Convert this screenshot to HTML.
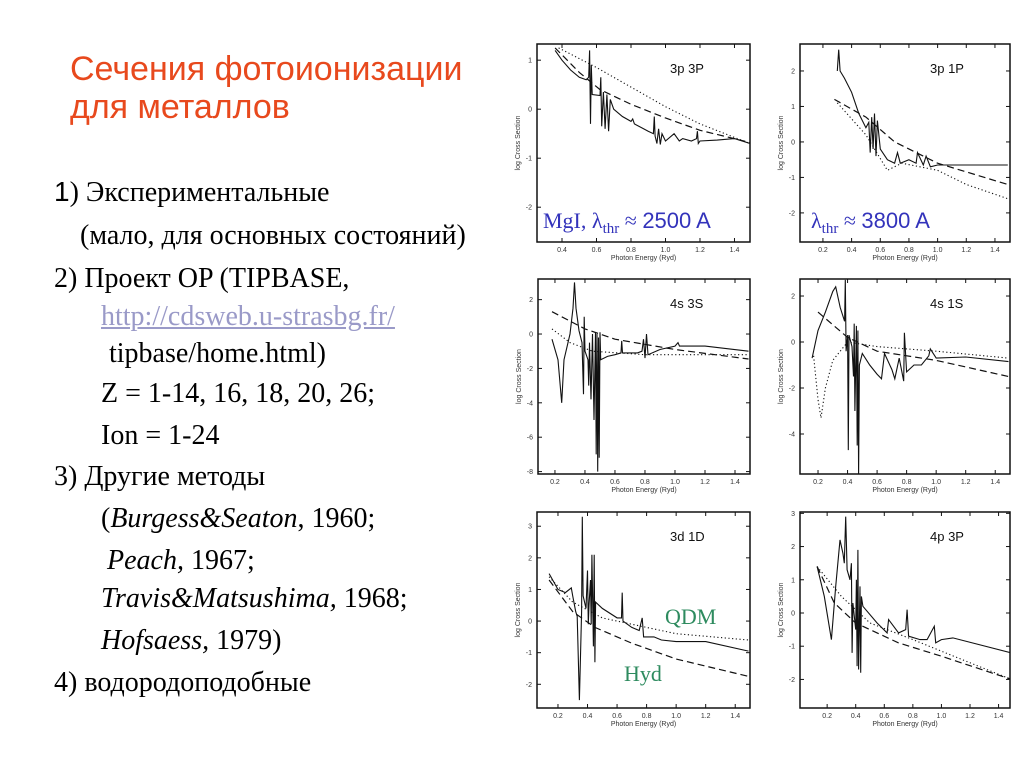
<!DOCTYPE html>
<html><head><meta charset="utf-8">
<style>
body{margin:0;width:1024px;height:768px;background:#fff;overflow:hidden;position:relative;font-family:"Liberation Serif","Noto Serif CJK SC",serif}
.t{position:absolute;font-size:28px;line-height:32px;color:#000;white-space:nowrap}
h1{position:absolute;left:70px;top:50px;margin:0;font:34px/38px "Liberation Sans",sans-serif;color:#e8491d;font-weight:normal}
svg{position:absolute;left:0;top:0}
</style></head><body>
<h1>Сечения фотоионизации<br>для металлов</h1>
<div class="t" style="left:54px;top:176px"><span style="font-family:'Liberation Sans',sans-serif">1</span>) Экспериментальные</div>
<div class="t" style="left:80px;top:220px">(мало, для основных состояний)</div>
<div class="t" style="left:54px;top:263px">2) Проект OP (TIPBASE,</div>
<div class="t" style="left:101px;top:301px;color:#9a9ac8;text-decoration:underline">http://cdsweb.u-strasbg.fr/</div>
<div class="t" style="left:109px;top:338px">tipbase/home.html)</div>
<div class="t" style="left:101px;top:378px">Z = 1-14, 16, 18, 20, 26;</div>
<div class="t" style="left:101px;top:420px">Ion = 1-24</div>
<div class="t" style="left:54px;top:461px">3) Другие методы</div>
<div class="t" style="left:101px;top:503px">(<i>Burgess&amp;Seaton</i>, 1960;</div>
<div class="t" style="left:107px;top:545px"><i>Peach,</i> 1967;</div>
<div class="t" style="left:101px;top:583px"><i>Travis&amp;Matsushima,</i> 1968;</div>
<div class="t" style="left:101px;top:625px"><i>Hofsaess,</i> 1979)</div>
<div class="t" style="left:54px;top:667px">4) водородоподобные</div>

<svg id="c" width="1024" height="768"></svg>
<script>
// Panel data: energies (Ryd) and log cross sections
const p1SolidX=[0.36,0.4,0.45,0.5,0.54,0.555,0.56,0.565,0.57,0.575,0.62,0.625,0.63,0.64,0.65,0.66,0.67,0.68,0.7,0.75,0.8,0.81,0.82,0.9,0.93,0.935,0.94,0.95,0.96,0.97,0.98,1.0,1.05,1.08,1.1,1.15,1.18,1.185,1.19,1.2,1.3,1.4,1.49];
const p1SolidY=[1.2,1.0,0.8,0.65,0.6,0.65,1.2,-0.3,0.9,0.3,0.28,0.65,-0.35,0.35,-0.4,0.3,-0.45,0.2,0.0,-0.15,-0.25,-0.2,-0.3,-0.45,-0.5,-0.15,-0.55,-0.7,-0.4,-0.72,-0.5,-0.65,-0.5,-0.65,-0.6,-0.65,-0.6,-0.45,-0.7,-0.65,-0.63,-0.6,-0.7];
const p1DashX=[0.36,0.5,0.62,0.8,1.0,1.2,1.49];const p1DashY=[1.25,0.75,0.4,0.1,-0.18,-0.43,-0.68];
const p1DotX=[0.38,0.6,0.8,1.0,1.2,1.49];const p1DotY=[1.25,0.85,0.45,0.05,-0.3,-0.7];

const p2SolidX=[0.3,0.31,0.32,0.35,0.4,0.45,0.5,0.52,0.53,0.54,0.55,0.56,0.57,0.58,0.6,0.65,0.7,0.72,0.74,0.8,0.85,0.86,0.9,0.92,0.95,1.0,1.2,1.49];
const p2SolidY=[2.0,2.6,2.0,1.8,1.4,0.8,0.4,0.55,-0.3,0.7,-0.2,0.8,-0.4,0.6,-0.2,-0.5,-0.6,-0.3,-0.6,-0.5,-0.6,-0.3,-0.65,-0.4,-0.7,-0.65,-0.65,-0.65];
const p2DashX=[0.28,0.5,0.7,1.0,1.49];const p2DashY=[1.2,0.7,0.0,-0.6,-1.2];
const p2DotX=[0.3,0.5,0.65,0.75,1.0,1.2,1.49];const p2DotY=[1.1,0.2,-0.8,-0.6,-0.8,-1.2,-1.6];

const p3SolidX=[0.18,0.22,0.245,0.26,0.3,0.32,0.33,0.34,0.36,0.38,0.39,0.395,0.4,0.42,0.425,0.43,0.44,0.45,0.46,0.47,0.475,0.48,0.485,0.49,0.495,0.5,0.505,0.55,0.6,0.64,0.645,0.65,0.7,0.75,0.78,0.79,0.8,0.81,0.82,0.9,1.0,1.02,1.03,1.2,1.49];
const p3SolidY=[-0.3,-1.5,-4.0,-1.5,0.0,1.5,3.0,1.5,0.2,-0.5,-3.5,1.0,-1.0,-1.5,-3.0,-0.5,-3.8,0.0,-5.0,0.1,-7.0,0.0,-8.0,-0.2,-7.2,0.1,-1.5,-1.3,-1.2,-1.1,-0.4,-1.1,-1.1,-1.1,-1.0,-0.3,-1.4,0.0,-1.2,-0.9,-0.7,-0.5,-0.7,-0.7,-1.0];
const p3DashX=[0.18,0.4,0.6,1.0,1.49];const p3DashY=[1.3,0.3,-0.3,-0.9,-1.45];
const p3DotX=[0.18,0.3,0.45,0.8,1.49];const p3DotY=[0.3,-0.5,-1.0,-1.2,-1.2];

const p4SolidX=[0.16,0.2,0.25,0.3,0.32,0.35,0.38,0.385,0.39,0.4,0.405,0.41,0.43,0.44,0.445,0.45,0.46,0.465,0.47,0.475,0.48,0.5,0.55,0.6,0.63,0.65,0.7,0.72,0.75,0.78,0.785,0.8,0.85,0.9,0.95,0.96,1.0,1.2,1.49];
const p4SolidY=[-0.7,0.5,1.3,2.2,2.4,1.5,0.9,2.7,-0.4,0.3,-4.7,0.3,-0.2,-1.5,0.8,-3.0,0.7,-4.5,0.5,-5.8,-1.0,-0.5,-1.0,-1.4,-1.6,-0.5,-1.2,-1.6,-0.7,-1.7,0.4,-1.3,-1.0,-1.0,-0.6,-0.3,-0.7,-0.65,-0.85];
const p4DashX=[0.2,0.4,0.6,1.0,1.49];const p4DashY=[1.3,0.2,-0.4,-0.8,-1.5];
const p4DotX=[0.17,0.2,0.22,0.25,0.3,0.4,0.6,1.0,1.49];const p4DotY=[-0.6,-2.5,-3.3,-2.0,-0.8,0.0,-0.2,-0.4,-0.7];

const p5SolidX=[0.14,0.2,0.25,0.29,0.3,0.32,0.33,0.345,0.36,0.365,0.37,0.39,0.4,0.405,0.41,0.42,0.425,0.43,0.44,0.445,0.45,0.455,0.5,0.6,0.63,0.635,0.64,0.7,0.75,0.77,0.78,0.85,0.9,1.0,1.2,1.49];
const p5SolidY=[1.5,1.0,0.9,1.05,0.8,0.3,0.15,-2.5,0.3,3.3,0.8,0.4,1.6,-0.1,0.5,1.3,-0.1,2.1,-0.8,2.1,-1.3,0.6,0.4,0.1,0.1,0.9,0.0,-0.2,-0.3,0.1,-0.5,-0.5,-0.6,-0.65,-0.65,-0.95];
const p5DashX=[0.14,0.3,0.45,0.7,1.0,1.49];const p5DashY=[1.3,0.3,-0.2,-0.7,-1.2,-1.75];
const p5DotX=[0.14,0.3,0.5,0.8,1.0,1.49];const p5DotY=[1.4,0.6,0.1,-0.2,-0.4,-0.6];

const p6SolidX=[0.13,0.18,0.23,0.26,0.29,0.31,0.32,0.33,0.34,0.36,0.37,0.375,0.38,0.4,0.405,0.41,0.415,0.42,0.43,0.435,0.44,0.45,0.55,0.62,0.63,0.7,0.75,0.76,0.77,0.85,0.9,0.95,0.96,1.0,1.08,1.49];
const p6SolidY=[1.4,0.5,-0.8,0.8,2.2,1.8,1.5,2.9,1.3,1.0,1.5,-1.2,0.3,-0.5,1.0,-1.6,1.9,-1.7,0.8,-1.8,0.5,0.2,-0.3,-0.6,-0.2,-0.6,-0.5,0.1,-0.7,-0.8,-0.8,-0.4,-0.9,-0.8,-0.75,-1.2];
const p6DashX=[0.13,0.25,0.4,0.7,1.0,1.49];const p6DashY=[1.4,0.3,-0.3,-0.9,-1.3,-2.0];
const p6DotX=[0.13,0.3,0.5,0.8,1.2,1.49];const p6DotY=[1.4,0.5,-0.3,-0.8,-1.5,-2.0];

const xTickLabels=["0.2","0.4","0.6","0.8","1.0","1.2","1.4"];

const panels=[
 {name:"3p 3P",L:537,R:750,T:44,B:242,x0:0.255,x1:1.49,y0:-2.71,y1:1.33,yt:[-2,-1,0,1],xt:["0.4","0.6","0.8","1.0","1.2","1.4"],s:[p1SolidX,p1SolidY],d:[p1DashX,p1DashY],o:[p1DotX,p1DotY]},
 {name:"3p 1P",L:800,R:1010,T:44,B:242,x0:0.04,x1:1.505,y0:-2.82,y1:2.76,yt:[-2,-1,0,1,2],xt:xTickLabels,s:[p2SolidX,p2SolidY],d:[p2DashX,p2DashY],o:[p2DotX,p2DotY]},
 {name:"4s 3S",L:538,R:750,T:279,B:474,x0:0.087,x1:1.5,y0:-8.14,y1:3.2,yt:[-8,-6,-4,-2,0,2],xt:xTickLabels,s:[p3SolidX,p3SolidY],d:[p3DashX,p3DashY],o:[p3DotX,p3DotY]},
 {name:"4s 1S",L:800,R:1010,T:279,B:474,x0:0.078,x1:1.5,y0:-5.74,y1:2.74,yt:[-4,-2,0,2],xt:xTickLabels,s:[p4SolidX,p4SolidY],d:[p4DashX,p4DashY],o:[p4DotX,p4DotY]},
 {name:"3d 1D",L:537,R:750,T:512,B:708,x0:0.058,x1:1.5,y0:-2.75,y1:3.45,yt:[-2,-1,0,1,2,3],xt:xTickLabels,s:[p5SolidX,p5SolidY],d:[p5DashX,p5DashY],o:[p5DotX,p5DotY]},
 {name:"4p 3P",L:800,R:1010,T:512,B:708,x0:0.01,x1:1.48,y0:-2.86,y1:3.04,yt:[-2,-1,0,1,2,3],xt:xTickLabels,s:[p6SolidX,p6SolidY],d:[p6DashX,p6DashY],o:[p6DotX,p6DotY]}
];
const NS="http://www.w3.org/2000/svg";
const svg=document.getElementById('c');
function mk(tag,at,parent){const e=document.createElementNS(NS,tag);for(const k in at)e.setAttribute(k,at[k]);(parent||svg).appendChild(e);return e;}
panels.forEach((p,i)=>{
 const g=mk('g',{});
 
 
 const sx=v=>p.L+(v-p.x0)/(p.x1-p.x0)*(p.R-p.L);
 const sy=v=>p.B-(v-p.y0)/(p.y1-p.y0)*(p.B-p.T);
 const cp='cp'+i;
 const cl=mk('clipPath',{id:cp},g);mk('rect',{x:p.L,y:p.T,width:p.R-p.L,height:p.B-p.T},cl);
 const line=(arr,extra,nm)=>{const pts=arr[0].map((x,k)=>sx(x).toFixed(1)+','+sy(arr[1][k]).toFixed(1)).join(' ');
  const e=mk('polyline',Object.assign({points:pts,fill:'none',stroke:'#111','clip-path':'url(#'+cp+')'},extra),g);
  
  };
 line(p.o,{'stroke-width':1.1,'stroke-dasharray':'1.2 2.5'},'hydrogenic-dotted-curve');
 line(p.d,{'stroke-width':1.2,'stroke-dasharray':'7 4'},'qdm-dashed-curve');
 line(p.s,{'stroke-width':1.1},'op-solid-curve');
 const fr=mk('rect',{x:p.L,y:p.T,width:p.R-p.L,height:p.B-p.T,fill:'none',stroke:'#111','stroke-width':1.5},g);
 
 
 p.yt.forEach(v=>{const y=sy(v);mk('line',{x1:p.L,x2:p.L+4,y1:y,y2:y,stroke:'#111'},g);mk('line',{x1:p.R,x2:p.R-4,y1:y,y2:y,stroke:'#111'},g);
  const t=mk('text',{x:p.L-5,y:y+2.5,'font-size':7,'text-anchor':'end','font-family':'Liberation Sans,sans-serif',fill:'#333'},g);t.textContent=v;
  
  });
 p.xt.forEach(s=>{const x=sx(parseFloat(s));mk('line',{x1:x,x2:x,y1:p.B,y2:p.B-4,stroke:'#111'},g);mk('line',{x1:x,x2:x,y1:p.T,y2:p.T+4,stroke:'#111'},g);
  const t=mk('text',{x:x,y:p.B+10,'font-size':7,'text-anchor':'middle','font-family':'Liberation Sans,sans-serif',fill:'#333'},g);t.textContent=s;
  
  });
 const xt=mk('text',{x:(p.L+p.R)/2,y:p.B+18,'font-size':7,'text-anchor':'middle','font-family':'Liberation Sans,sans-serif',fill:'#333'},g);xt.textContent='Photon Energy (Ryd)';
 
 
 const yc=(p.T+p.B)/2;
 const yt=mk('text',{x:p.L-17,y:yc,'font-size':7,'text-anchor':'middle','font-family':'Liberation Sans,sans-serif',fill:'#333',transform:'rotate(-90 '+(p.L-17)+' '+yc+')'},g);yt.textContent='log Cross Section';
 
 
 const nt=mk('text',{x:p.R-80,y:p.T+29,'font-size':13,'font-family':'Liberation Sans,sans-serif',fill:'#111'},g);nt.textContent=p.name;
 
 
});
function ann(x,y,html,color,size,family,nm){const t=mk('text',{x:x,y:y,'font-size':size,'font-family':family,fill:color});t.innerHTML=html;
 
 }
ann(543,228,'MgI, λ<tspan font-size="15" dy="5">thr</tspan><tspan dy="-5"> ≈ </tspan><tspan font-family="Liberation Sans,sans-serif">2500 A</tspan>','#3333bb',22,'Liberation Serif,serif','mgi-threshold-label');
ann(811,228,'λ<tspan font-size="15" dy="5">thr</tspan><tspan dy="-5"> ≈ </tspan><tspan font-family="Liberation Sans,sans-serif">3800 A</tspan>','#3333bb',22,'Liberation Serif,serif','threshold-3800-label');
ann(665,624,'QDM','#2e8b5f',22,'Liberation Serif,serif','qdm-label');
ann(624,681,'Hyd','#2e8b5f',22,'Liberation Serif,serif','hyd-label');
</script>
</body></html>
